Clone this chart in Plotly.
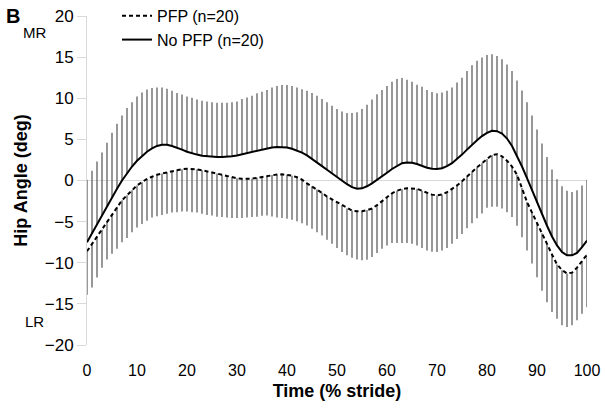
import plotly.graph_objects as go

time_pct = list(range(0, 101))

pfp_mean = [-8.6, -7.7, -6.8, -6.0, -5.0, -4.1, -3.2, -2.4, -1.8, -1.2,
            -0.6, -0.2, 0.2, 0.45, 0.7, 0.85, 1.0, 1.15, 1.3, 1.38,
            1.42, 1.42, 1.36, 1.25, 1.13, 1.0, 0.85, 0.7, 0.55, 0.4,
            0.28, 0.2, 0.18, 0.22, 0.32, 0.42, 0.55, 0.68, 0.73, 0.75,
            0.7, 0.58, 0.4, 0.1, -0.35, -0.7, -1.1, -1.5, -1.95, -2.3,
            -2.7, -3.05, -3.4, -3.65, -3.75, -3.75, -3.6, -3.4, -3.0, -2.5,
            -2.0, -1.55, -1.25, -1.05, -0.95, -0.93, -1.0, -1.25, -1.5, -1.72,
            -1.82, -1.7, -1.42, -1.05, -0.6, -0.1, 0.5, 1.0, 1.6, 2.1,
            2.6, 3.1, 3.2, 2.95, 2.4, 1.7, 0.7, -0.9, -2.6, -3.9,
            -5.1, -6.4, -7.7, -9.0, -10.2, -10.9, -11.3, -11.2, -10.6, -9.8,
            -9.0]

pfp_lower = [-13.9, -13.0, -11.8, -10.6, -9.6, -8.9, -8.3, -7.5, -7.0, -6.3,
             -5.7, -5.3, -4.9, -4.5, -4.35, -4.2, -4.05, -3.9, -3.85, -3.77,
             -3.77, -3.85, -3.9, -4.05, -4.2, -4.25, -4.4, -4.45, -4.5, -4.55,
             -4.55, -4.55, -4.5, -4.45, -4.4, -4.3, -4.25, -4.37, -4.5, -4.57,
             -4.66, -4.78, -4.94, -5.19, -5.47, -5.87, -6.28, -6.68, -7.2, -7.7,
             -8.2, -8.7, -9.1, -9.4, -9.6, -9.7, -9.64, -9.3, -8.8, -8.3,
             -7.9, -7.6, -7.6, -7.6, -7.6, -7.7, -7.9, -8.2, -8.5, -8.65,
             -8.7, -8.5, -8.2, -7.7, -7.1, -6.5, -5.8, -5.2, -4.6, -4.0,
             -3.3, -3.2, -3.2, -3.4, -3.85, -4.45, -5.5, -6.9, -8.5, -10.1,
             -11.75, -13.4, -14.8, -16.0, -16.8, -17.6, -17.8, -17.6, -17.0, -16.2,
             -15.4]

nopfp_mean = [-7.5, -6.4, -5.3, -4.2, -3.1, -2.0, -1.0, 0.0, 0.9, 1.7,
              2.4, 3.0, 3.5, 3.9, 4.2, 4.35, 4.35, 4.2, 4.0, 3.75,
              3.5, 3.3, 3.15, 3.0, 2.92, 2.87, 2.85, 2.85, 2.88, 2.95,
              3.05, 3.2, 3.35, 3.5, 3.65, 3.8, 3.92, 4.02, 4.08, 4.07,
              4.0, 3.85, 3.65, 3.4, 3.05, 2.65, 2.2, 1.75, 1.3, 0.85,
              0.4, -0.05, -0.45, -0.8, -1.0, -0.95, -0.7, -0.35, 0.05, 0.5,
              0.95, 1.4, 1.8, 2.1, 2.2, 2.15, 2.0, 1.75, 1.55, 1.42,
              1.4, 1.5, 1.75, 2.1, 2.6, 3.15, 3.75, 4.35, 4.9, 5.4,
              5.8, 6.05, 6.0, 5.7, 5.1, 4.2, 3.0, 1.7, 0.3, -1.2,
              -2.7, -4.1, -5.5, -6.8, -7.9, -8.7, -9.1, -9.1, -8.8, -8.1,
              -7.3]

nopfp_upper = [0.1, 1.2, 2.3, 3.4, 4.6, 5.8, 6.9, 7.9, 8.8, 9.5,
               10.2, 10.7, 11.05, 11.25, 11.3, 11.3, 11.15, 10.9, 10.65, 10.45,
               10.2, 10.05, 9.85, 9.7, 9.6, 9.5, 9.45, 9.45, 9.45, 9.5,
               9.6, 9.9, 10.1, 10.3, 10.6, 10.8, 11.0, 11.3, 11.5, 11.6,
               11.6, 11.5, 11.3, 11.1, 10.9, 10.65, 10.3, 9.9, 9.5, 9.1,
               8.7, 8.4, 8.2, 8.2, 8.3, 8.7, 9.2, 9.85, 10.5, 11.0,
               11.5, 12.0, 12.35, 12.45, 12.25, 12.0, 11.65, 11.4, 11.0, 10.75,
               10.6, 10.7, 10.9, 11.3, 11.9, 12.5, 13.3, 14.0, 14.55, 14.95,
               15.25, 15.35, 15.15, 14.75, 14.1, 13.3, 12.15, 10.95, 9.5, 7.9,
               6.2, 4.5, 2.85, 1.35, 0.15, -0.7, -1.25, -1.4, -1.2, -0.6,
               0.1]

x_ticks = list(range(0, 101, 10))
y_ticks = list(range(-20, 21, 5))

pfp_minus = [m - lo for m, lo in zip(pfp_mean, pfp_lower)]
nopfp_plus = [up - m for m, up in zip(nopfp_mean, nopfp_upper)]
zeros = [0] * len(time_pct)

FONT = "Arial, Liberation Sans, sans-serif"
BAR = "#606060"

fig = go.Figure()
fig.add_trace(go.Scatter(
    x=time_pct, y=pfp_mean, mode="lines", name="PFP (n=20)",
    line=dict(color="black", width=2, dash="4px,3px"),
    error_y=dict(type="data", symmetric=False, array=zeros, arrayminus=pfp_minus,
                 color=BAR, thickness=1.3, width=0),
))
fig.add_trace(go.Scatter(
    x=time_pct, y=nopfp_mean, mode="lines", name="No PFP (n=20)",
    line=dict(color="black", width=2),
    error_y=dict(type="data", symmetric=False, array=nopfp_plus, arrayminus=zeros,
                 color=BAR, thickness=1.3, width=0),
))

fig.update_layout(
    width=605, height=410,
    margin=dict(l=87, r=18, t=16, b=65, autoexpand=False),
    paper_bgcolor="white", plot_bgcolor="white",
    font=dict(family=FONT, size=16, color="#000"),
    showlegend=True,
    legend=dict(x=0.06, y=1.052, xanchor="left", yanchor="top",
                bgcolor="rgba(0,0,0,0)", font=dict(size=16, color="#000"),
                tracegroupgap=0, itemwidth=30),
    xaxis=dict(range=[0, 100], tickvals=x_ticks, ticktext=[str(v) for v in x_ticks],
               showgrid=False, zeroline=False, showline=False, ticks="",
               ticklabelstandoff=14, automargin=False,
               title=dict(text="<b>Time (% stride)</b>", font=dict(size=18), standoff=6)),
    yaxis=dict(range=[-20, 20], tickvals=y_ticks, showgrid=False,
               zeroline=True, zerolinecolor="#d9d9d9", zerolinewidth=1,
               showline=True, linecolor="#d9d9d9", linewidth=1,
               ticks="outside", ticklen=9, tickcolor="#d9d9d9",
               tickfont=dict(size=17), automargin=False,
               title=dict(text="<b>Hip Angle (deg)</b>", font=dict(size=18), standoff=12)),
    annotations=[
        dict(text="<b>B</b>", xref="paper", yref="paper", x=-0.166, y=1.0,
             xanchor="left", yanchor="middle", showarrow=False, font=dict(size=20)),
        dict(text="MR", xref="paper", yref="y", x=-0.106, y=18.0,
             xanchor="center", yanchor="middle", showarrow=False, font=dict(size=15)),
        dict(text="LR", xref="paper", yref="y", x=-0.106, y=-17.1,
             xanchor="center", yanchor="middle", showarrow=False, font=dict(size=15)),
    ],
)

fig.write_html("out.html", config={"displayModeBar": False},
               post_script="document.body.style.margin='0';")
